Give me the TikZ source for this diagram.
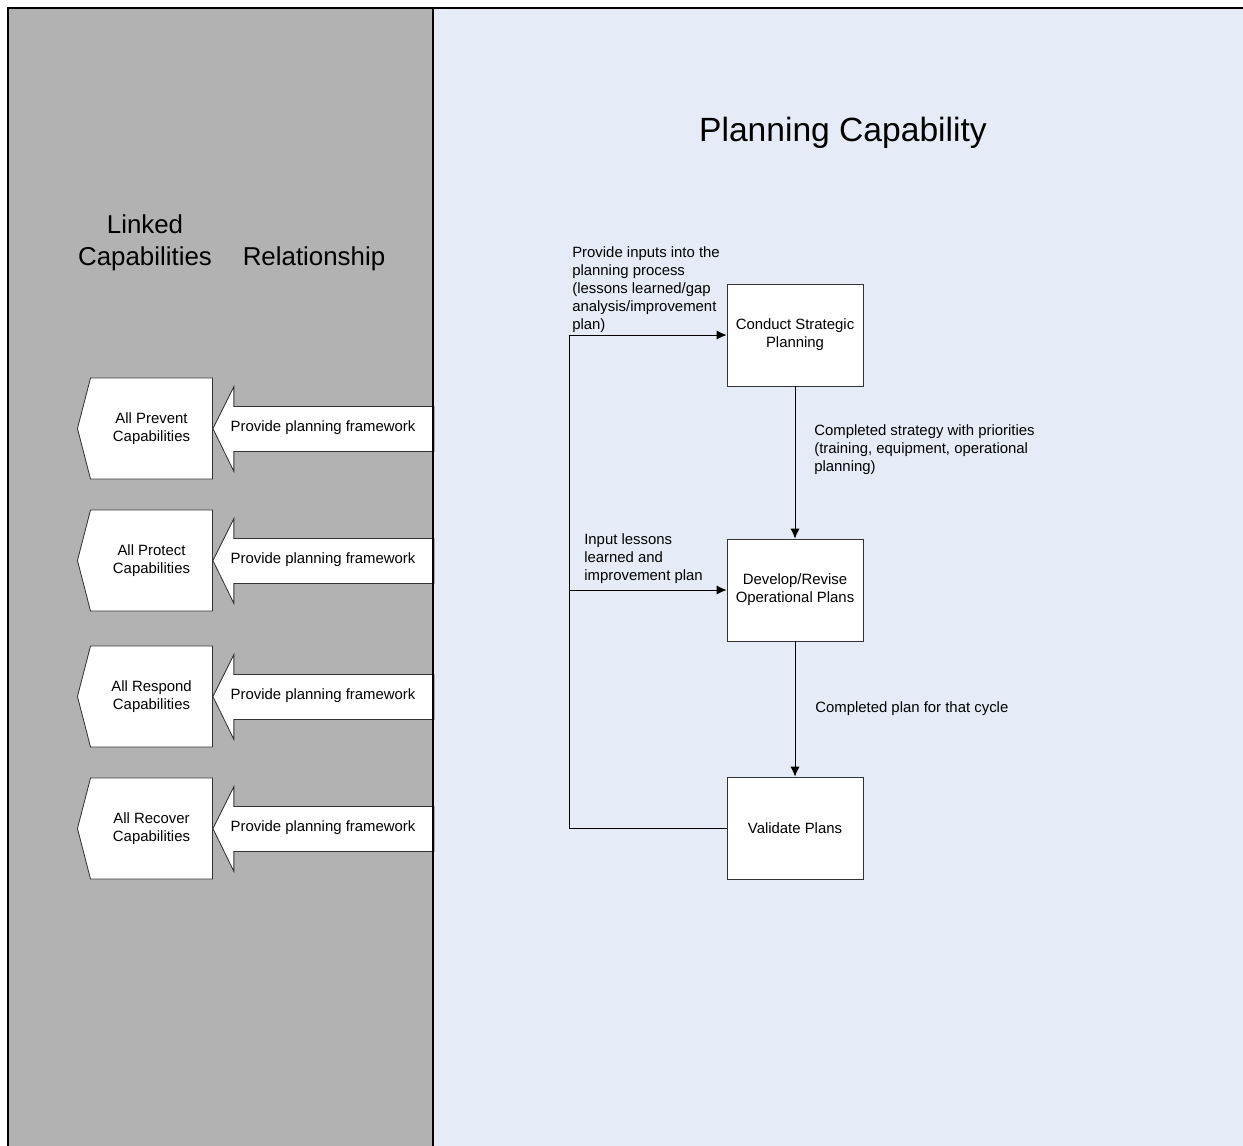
\documentclass[tikz,border=0pt]{standalone}
\usepackage{fontspec}
\setmainfont{Liberation Sans}
\usetikzlibrary{shapes.symbols,arrows.meta}
\definecolor{panelgray}{HTML}{B2B2B2}
\definecolor{panelblue}{HTML}{E5ECF7}

\begin{document}
\begin{tikzpicture}
  [
    x=0.025cm, y=-0.025cm,
    activity/.style = {draw=black!80, shape=rectangle, fill=white, minimum height=2.55cm, minimum width=3.4cm, align=center, line width=0.6pt, font=\fontsize{10.6}{12.8}\selectfont},
    linked/.style = {draw=black!80, shape=signal, signal to=west, signal pointer angle=151, fill=white, minimum height=2.525cm, minimum width=3.375cm, align=center, line width=0.6pt, font=\fontsize{10.6}{12.8}\selectfont},
    relation/.style = {draw=black!80, fill=white, line width=0.6pt},
    flow/.style = {-{Latex[length=7pt,width=6.5pt]}, line width=0.6pt},
    note/.style = {anchor=north west, inner sep=0pt, align=left, font=\fontsize{10.6}{12.8}\selectfont},
    header/.style = {align=center, font=\fontsize{18.4}{22.7}\selectfont},
  ]

  \clip (0,0) rectangle (1243,1145);

  % panels
  \fill[panelgray] (8,8) rectangle (433,1160);
  \fill[panelblue] (433,8) rectangle (1260,1160);

  \node[font=\fontsize{23.9}{28}\selectfont] (title) at (843,133) {Planning Capability};
  \node[header] (linkedhead) at (145,243) {Linked\\Capabilities};
  \node[header, anchor=base] (relhead) at (314,265) {Relationship};

  % linked capabilities
  \node[linked] (prevent) at (151.5,428.5) {All Prevent\\Capabilities};
  \node[linked] (protect) at (151.5,560.5) {All Protect\\Capabilities};
  \node[linked] (respond) at (151.5,696.5) {All Respond\\Capabilities};
  \node[linked] (recover) at (151.5,828.5) {All Recover\\Capabilities};

  \draw[relation] (prevent.east) -- ++(21,-42) -- ++(0,20) -- ++(200,0) -- ++(0,45) -- ++(-200,0) -- ++(0,20) -- cycle;
  \draw[relation] (protect.east) -- ++(21,-42) -- ++(0,20) -- ++(200,0) -- ++(0,45) -- ++(-200,0) -- ++(0,20) -- cycle;
  \draw[relation] (respond.east) -- ++(21,-42) -- ++(0,20) -- ++(200,0) -- ++(0,45) -- ++(-200,0) -- ++(0,20) -- cycle;
  \draw[relation] (recover.east) -- ++(21,-42) -- ++(0,20) -- ++(200,0) -- ++(0,45) -- ++(-200,0) -- ++(0,20) -- cycle;

  \node[font=\fontsize{10.6}{12.8}\selectfont] (relA) at (323,428) {Provide planning framework};
  \node[font=\fontsize{10.6}{12.8}\selectfont] (relB) at (323,560) {Provide planning framework};
  \node[font=\fontsize{10.6}{12.8}\selectfont] (relC) at (323,696) {Provide planning framework};
  \node[font=\fontsize{10.6}{12.8}\selectfont] (relD) at (323,828) {Provide planning framework};

  % borders
  \draw[line width=1.3pt] (8,1160) -- (8,8) -- (1260,8);
  \draw[line width=1pt] (433,8) -- (433,1160);

  % planning cycle
  \node[activity] (strategic) at (795,335) {Conduct Strategic\\Planning};
  \node[activity] (develop) at (795,590) {Develop/Revise\\Operational Plans};
  \node[activity] (validate) at (795,828) {Validate Plans};

  \coordinate (back) at (569,828);
  \coordinate (branch) at (569,590);

  \draw [flow] (strategic.south) -- (develop.north);
  \draw [flow] (develop.south) -- (validate.north);
  \draw [flow] (validate.west) -- (back) |- (strategic.west);
  \draw [flow] (branch) -- (develop.west);

  \node[note] (inputs) at (572,246) {Provide inputs into the\\planning process\\(lessons learned/gap\\analysis/improvement\\plan)};
  \node[note] (lessons) at (584,533) {Input lessons\\learned and\\improvement plan};
  \node[note] (strategy) at (814,424) {Completed strategy with priorities\\(training, equipment, operational\\planning)};
  \node[note] (cycle) at (815,701) {Completed plan for that cycle};

\end{tikzpicture}
\end{document}
